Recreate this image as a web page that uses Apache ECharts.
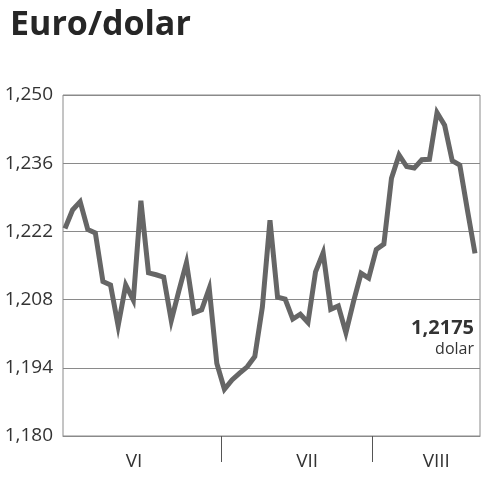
<!DOCTYPE html>
<html><head><meta charset="utf-8">
<script src="https://cdn.jsdelivr.net/npm/echarts@6/dist/echarts.min.js"></script>
<style>html,body{margin:0;padding:0;background:#fff}#c{width:488px;height:480px}</style>
</head><body><div id="c"></div>
<script>
const titleText = 'Euro/dolar';
const unitText = 'dolar';
const rates = [1.2226,1.2264,1.2281,1.2224,1.2217,1.2117,1.2110,1.2026,1.2110,1.2079,
  1.2283,1.2135,1.2131,1.2126,1.2037,1.2098,1.2156,1.2053,1.2059,1.2103,
  1.1949,1.1896,1.1915,1.1929,1.1942,1.1963,1.2065,1.2243,1.2085,1.2081,
  1.2040,1.2050,1.2033,1.2137,1.2176,1.2060,1.2067,1.2012,1.2076,1.2134,
  1.2124,1.2183,1.2194,1.2329,1.2377,1.2353,1.2350,1.2367,1.2368,1.2464,
  1.2438,1.2365,1.2356,1.2264,1.2175];
const months = ['VI','VII','VIII'];
const monthCenters = [9.1, 31.9, 48.9];
const monthBounds = [20.55, 40.45];
const yMin = 1.180, yMax = 1.250, yStep = 0.014;
const lastValue = '1,2175';

const fmt = v => v.toFixed(3).replace('.', ',');
const chart = echarts.init(document.getElementById('c'));
chart.setOption({
  animation: false,
  title: [
    {text: titleText, left: 5, top: 3,
     textStyle: {fontFamily: 'Open Sans', fontWeight: 'bold', fontSize: 34, color: '#262626'}},
    {text: lastValue, right: 9, top: 313,
     textStyle: {fontFamily: 'Open Sans', fontWeight: 'bold', fontSize: 20, color: '#333'}},
    {text: unitText, right: 9, top: 336,
     textStyle: {fontFamily: 'Open Sans', fontWeight: 'normal', fontSize: 16, color: '#333'}}
  ],
  grid: {left: 63, right: 8, top: 95, bottom: 44, show: true, borderColor: '#8a8a8a', borderWidth: 1},
  xAxis: {
    type: 'value', min: -0.26, max: 54.66,
    axisLine: {show: true, lineStyle: {color: '#8a8a8a', width: 1}},
    splitLine: {show: false},
    axisTick: {show: true, inside: false, length: 26, customValues: monthBounds,
               lineStyle: {color: '#555', width: 1}},
    axisLabel: {customValues: monthCenters, margin: 16,
                formatter: v => months[monthCenters.indexOf(v)] || '',
                fontFamily: 'Open Sans', fontSize: 19, color: '#333'}
  },
  yAxis: {
    type: 'value', min: yMin, max: yMax, interval: yStep,
    axisLine: {show: false}, axisTick: {show: false},
    splitLine: {show: true, lineStyle: {color: '#8a8a8a', width: 1}},
    axisLabel: {formatter: fmt, margin: 10, fontFamily: 'Open Sans', fontSize: 19, color: '#333'}
  },
  series: [{
    type: 'line', data: rates.map((v, i) => [i, v]), symbol: 'none',
    lineStyle: {color: '#666', width: 5, join: 'miter'}
  }]
});
</script></body></html>
